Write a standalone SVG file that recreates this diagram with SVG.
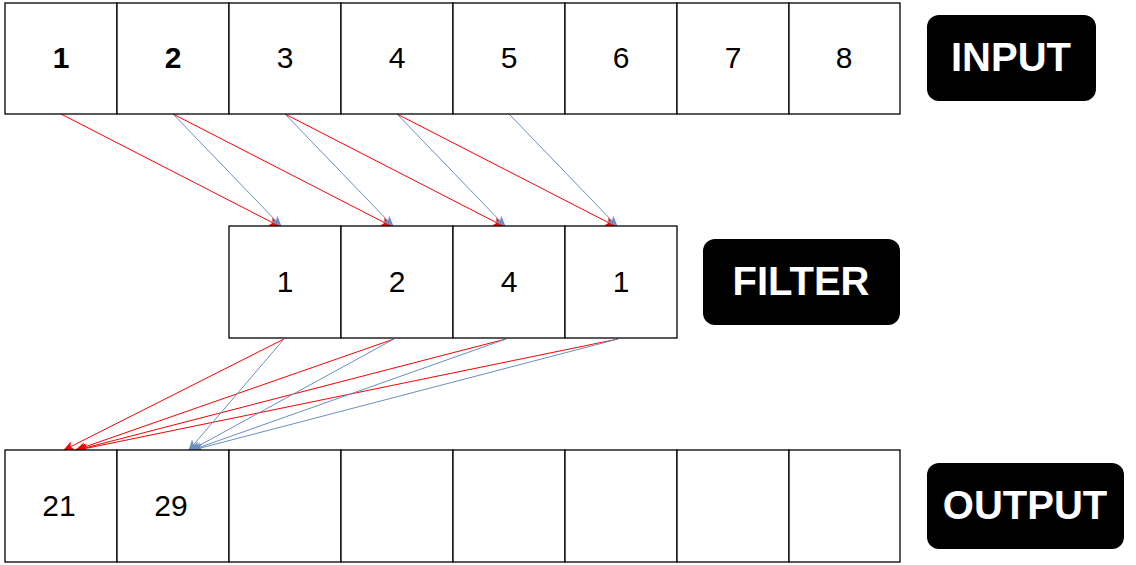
<svg xmlns="http://www.w3.org/2000/svg" width="1136" height="565" viewBox="0 0 1136 565">
<style>
.cell{fill:#fff;stroke:#000;stroke-width:1.3}
.num{font-family:"Liberation Sans",Arial,sans-serif;font-size:30px;fill:#000;text-anchor:middle;dominant-baseline:central}
.b{font-weight:bold}
.tag{fill:#000}
.tagt{font-family:"Liberation Sans",Arial,sans-serif;font-size:40px;font-weight:bold;fill:#fff;text-anchor:middle;dominant-baseline:central}
.r{stroke:#ff0000;stroke-width:1;fill:none;marker-end:url(#ar)}
.bl{stroke:#6c8ebf;stroke-width:1;fill:none;marker-end:url(#ab)}
</style>
<defs>
<marker id="ar" viewBox="0 0 10 10" refX="9" refY="5" markerWidth="11" markerHeight="11" markerUnits="userSpaceOnUse" orient="auto"><path d="M0,1 L10,5 L0,9 L2.5,5 Z" fill="#ff0000"/></marker>
<marker id="ab" viewBox="0 0 10 10" refX="9" refY="5" markerWidth="11" markerHeight="11" markerUnits="userSpaceOnUse" orient="auto"><path d="M0,1 L10,5 L0,9 L2.5,5 Z" fill="#6c8ebf"/></marker>
</defs>
<rect width="1136" height="565" fill="#fff"/>
<g id="connectors">
<line class="r" x1="61" y1="114" x2="279" y2="226"/>
<line class="r" x1="173" y1="114" x2="391" y2="226"/>
<line class="r" x1="285" y1="114" x2="503" y2="226"/>
<line class="r" x1="397" y1="114" x2="615" y2="226"/>
<line class="bl" x1="173" y1="114" x2="281" y2="226"/>
<line class="bl" x1="285" y1="114" x2="393" y2="226"/>
<line class="bl" x1="397" y1="114" x2="505" y2="226"/>
<line class="bl" x1="509" y1="114" x2="617" y2="226"/>
<line class="r" x1="284" y1="339" x2="64" y2="450"/>
<line class="r" x1="394" y1="339" x2="76" y2="450"/>
<line class="r" x1="506" y1="339" x2="77" y2="450"/>
<line class="r" x1="618" y1="339" x2="78" y2="450"/>
<line class="bl" x1="284" y1="339" x2="189" y2="450"/>
<line class="bl" x1="394" y1="339" x2="191" y2="450"/>
<line class="bl" x1="506" y1="339" x2="192" y2="450"/>
<line class="bl" x1="618" y1="339" x2="193" y2="450"/>
</g>
<g id="input">
<rect class="cell" x="5" y="3" width="112" height="111"/>
<rect class="cell" x="117" y="3" width="112" height="111"/>
<rect class="cell" x="229" y="3" width="112" height="111"/>
<rect class="cell" x="341" y="3" width="112" height="111"/>
<rect class="cell" x="453" y="3" width="112" height="111"/>
<rect class="cell" x="565" y="3" width="112" height="111"/>
<rect class="cell" x="677" y="3" width="112" height="111"/>
<rect class="cell" x="789" y="3" width="111" height="111"/>
<text class="num b" x="61" y="57">1</text>
<text class="num b" x="173" y="57">2</text>
<text class="num" x="285" y="57">3</text>
<text class="num" x="397" y="57">4</text>
<text class="num" x="509" y="57">5</text>
<text class="num" x="621" y="57">6</text>
<text class="num" x="733" y="57">7</text>
<text class="num" x="844" y="57">8</text>
</g>
<g id="filter">
<rect class="cell" x="229" y="226" width="112" height="112"/>
<rect class="cell" x="341" y="226" width="112" height="112"/>
<rect class="cell" x="453" y="226" width="112" height="112"/>
<rect class="cell" x="565" y="226" width="112" height="112"/>
<text class="num" x="285" y="281">1</text>
<text class="num" x="397" y="281">2</text>
<text class="num" x="509" y="281">4</text>
<text class="num" x="621" y="281">1</text>
</g>
<g id="output">
<rect class="cell" x="5" y="450" width="112" height="112"/>
<rect class="cell" x="117" y="450" width="112" height="112"/>
<rect class="cell" x="229" y="450" width="112" height="112"/>
<rect class="cell" x="341" y="450" width="112" height="112"/>
<rect class="cell" x="453" y="450" width="112" height="112"/>
<rect class="cell" x="565" y="450" width="112" height="112"/>
<rect class="cell" x="677" y="450" width="112" height="112"/>
<rect class="cell" x="789" y="450" width="111" height="112"/>
<text class="num" x="59" y="505">21</text>
<text class="num" x="171" y="505">29</text>
</g>
<g id="label-input">
<rect class="tag" x="927" y="15" width="169" height="86" rx="12"/>
<text class="tagt" x="1011" y="57">INPUT</text>
</g>
<g id="label-filter">
<rect class="tag" x="703" y="239" width="197" height="86" rx="12"/>
<text class="tagt" x="801" y="281">FILTER</text>
</g>
<g id="label-output">
<rect class="tag" x="927" y="463" width="197" height="86" rx="12"/>
<text class="tagt" x="1025" y="505">OUTPUT</text>
</g>
</svg>
